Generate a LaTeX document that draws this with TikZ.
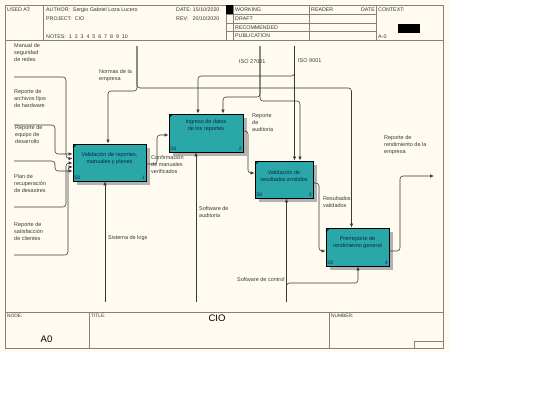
\documentclass[tikz,border=0pt]{standalone}
\usepackage{fontspec}
\setmainfont{Liberation Sans}
\usetikzlibrary{arrows.meta,shadows}
\definecolor{paper}{HTML}{FFFBF0}
\definecolor{frameline}{HTML}{86817A}
\definecolor{actfill}{HTML}{2AA8A8}
\definecolor{acttext}{HTML}{13244C}
\definecolor{ink}{HTML}{3A3A3A}

\tikzset{
  act/.style={draw=black, line width=0.9pt, fill=actfill, inner sep=0pt,
    drop shadow={shadow xshift=4pt, shadow yshift=-4pt, fill=black!30, opacity=1}},
  acttxt/.style={font=\fontsize{5.5}{7}\selectfont, text=acttext, align=center, inner sep=0pt},
  corner/.style={font=\fontsize{5}{6}\selectfont, text=acttext, inner sep=1.5pt},
  lbl/.style={font=\fontsize{5.5}{7}\selectfont, text=ink, align=left, inner sep=0pt, anchor=base west},
  flow/.style={draw=ink, line width=0.55pt, rounded corners=3pt, -{Latex[length=4pt,width=3.4pt]}},
  frame/.style={draw=frameline, line width=0.8pt},
  hdr/.style={font=\fontsize{5.3}{6}\selectfont, text=black!80, inner sep=0pt, anchor=west},
  tiny/.style={font=\fontsize{4.8}{6}\selectfont, text=black!80, inner sep=0pt, anchor=west},
}

\begin{document}
\begin{tikzpicture}[x=1pt, y=-1pt]
  \useasboundingbox (0,0) rectangle (540,405);
  \fill[white] (0,0) rectangle (540,405);
  \fill[paper] (0,0) rectangle (450,352);

  % frame and header
  \draw[frame] (5,5) rectangle (443,348.5);
  \draw[frame] (5,40) -- (443,40);
  \foreach \x in {43,226,233,309,376}
    \draw[frame] (\x,5) -- (\x,40);
  \foreach \y in {14,23,31}
    \draw[frame] (226,\y) -- (376,\y);
  \fill[black] (226,5) rectangle (233,14);
  \fill[black] (398,24) rectangle (420,33);

  \node[hdr] (usedat) at (7,10) {USED AT:};
  \node[hdr] (author) at (46,10) {AUTHOR:\ \ Sergio Gabriel Loza Lucero};
  \node[hdr] (project) at (46,19) {PROJECT:\ \ CIO};
  \node[hdr] (notes) at (46,37) {NOTES:\ \ 1\ \ 2\ \ 3\ \ 4\ \ 5\ \ 6\ \ 7\ \ 8\ \ 9\ \ 10};
  \node[hdr] (date) at (176,10) {DATE:\ 15/10/2020};
  \node[hdr] (rev) at (176,19) {REV:\hspace{4.3pt}20/10/2020};
  \node[hdr] (working) at (235,10) {WORKING};
  \node[hdr] (draft) at (235,19) {DRAFT};
  \node[hdr] (recom) at (235,27.5) {RECOMMENDED};
  \node[hdr] (public) at (235,36) {PUBLICATION};
  \node[hdr] (reader) at (311,10) {READER};
  \node[hdr, anchor=east] (rdate) at (375,10) {DATE};
  \node[hdr] (context) at (378,10) {CONTEXT:};
  \node[hdr] (ctxnum) at (378,37) {A-0};

  % title block
  \draw[frame] (5,312.5) -- (443,312.5);
  \draw[frame] (89,312.5) -- (89,348.5);
  \draw[frame] (329,312.5) -- (329,348.5);
  \draw[frame] (414,341.5) rectangle (443,348.5);
  \node[tiny] (nodelbl) at (7,316) {NODE:};
  \node[tiny] (titlelbl) at (91,316) {TITLE:};
  \node[tiny] (numlbl) at (331,316) {NUMBER:};
  \node[font=\fontsize{9.5}{11}\selectfont, inner sep=0pt] (nodeid) at (46.5,339.5) {A0};
  \node[font=\fontsize{9.5}{11}\selectfont, inner sep=0pt] (title) at (217,318.5) {CIO};

  % activities
  \node[act, minimum width=73pt, minimum height=37pt] (b1) at (109.5,162.5) {};
  \node[act, minimum width=74pt, minimum height=38pt] (b2) at (206,133) {};
  \node[act, minimum width=58pt, minimum height=37pt] (b3) at (284,179.5) {};
  \node[act, minimum width=63pt, minimum height=38pt] (b4) at (357.5,247) {};

  \node[acttxt] (t1) at ([yshift=4pt]b1.center) {Validación de reportes,\\manuales y planes};
  \node[acttxt] (t2) at ([yshift=7.5pt]b2.center) {Ingreso de datos\\de los reportes};
  \node[acttxt] (t3) at ([yshift=4pt]b3.center) {Validación de\\resultados emitidos};
  \node[acttxt] (t4) at ([yshift=4.5pt]b4.center) {Prerreporte de\\rendimiento general};

  \foreach \b/\n in {b1/1,b2/2,b3/3,b4/4}{
    \node[corner, anchor=south west] (s\n) at (\b.south west) {S0};
    \node[corner, anchor=south east] (n\n) at (\b.south east) {\n};
    \draw[black, line width=0.7pt] ([shift={(0.5pt,-4pt)}]\b.north west) -- ([shift={(4pt,-0.5pt)}]\b.north west);
  }

  % inputs
  \coordinate (manual) at (14,77);
  \coordinate (archivos) at (14,125);
  \coordinate (equipo) at (14,161);
  \coordinate (plan) at (14,207);
  \coordinate (satisf) at (14,255);
  \draw[flow] (manual) -- (66,77) -- (66,158.5) -- (b1.west |- 0,158.5);
  \draw[flow] (archivos) -- (55,125) -- (55,154) -- (b1.west |- 0,154);
  \draw[flow] (equipo) -- (55,161) -- (55,171) -- (b1.west |- 0,171);
  \draw[flow] (plan) -- (66,207) -- (66,163) -- (b1.west |- 0,163);
  \draw[flow] (satisf) -- (68,255) -- (68,167) -- (b1.west |- 0,167);
  \node[lbl] (lmanual) at (14,61) {Manual de\\seguridad\\de redes};
  \node[lbl] (larchivos) at (14,107) {Reporte de\\archivos fijos\\de hardware};
  \node[lbl] (lequipo) at (15,143) {Reporte de\\equipo de\\desarrollo};
  \node[lbl] (lplan) at (14,192) {Plan de\\recuperación\\de desastres};
  \node[lbl] (lsatisf) at (14,240) {Reporte de\\satisfacción\\de clientes};

  % controls
  \coordinate (normas) at (137,46);
  \coordinate (iso27) at (260,46);
  \coordinate (iso9) at (294.5,46);
  \draw[flow] (normas) -- (137,88) -- (351.5,88) -- (b4.north -| 351.5,0);
  \draw[flow] (normas) -- (137,91) -- (108,91) -- (b1.north -| 108,0);
  \draw[flow] (iso27) -- (260,97) -- (223,97) -- (b2.north -| 223,0);
  \draw[flow] (iso27) -- (260,101) -- (300,101) -- (b3.north -| 300,0);
  \draw[flow] (iso9) -- (294.5,76) -- (198,76) -- (b2.north -| 198,0);
  \draw[flow] (iso9) -- (b3.north -| iso9);
  \node[lbl] (lnormas) at (99,80) {Normas de la\\empresa};
  \node[lbl] (liso27) at (239,63) {ISO 27001};
  \node[lbl] (liso9) at (298,62) {ISO 9001};

  % outputs
  \coordinate (rend) at (434,176);
  \draw[flow] (b1.east |- 0,164) -- (157,164) -- (157,135) -- (b2.west |- 0,135);
  \draw[flow] (b2.east |- 0,131) -- (248,131) -- (248,173) -- (b3.west |- 0,173);
  \draw[flow] (b3.east |- 0,183) -- (319,183) -- (319,251) -- (b4.west |- 0,251);
  \draw[flow] (b4.east |- 0,251) -- (400,251) -- (400,176) -- (rend);
  \node[lbl] (lconf) at (151,173) {Confirmación\\de manuales\\verificados};
  \node[lbl] (laudit) at (252,131.5) {Reporte\\de\\auditoria};
  \node[lbl] (lresult) at (323,207.5) {Resultados\\validados};
  \node[lbl] (lrend) at (384,153) {Reporte de\\rendimiento de la\\empresa};

  % mechanisms
  \coordinate (logs) at (105,302);
  \coordinate (swaudit) at (196,302);
  \coordinate (swctrl) at (286.5,302);
  \draw[flow] (logs) -- (b1.south -| logs);
  \draw[flow] (swaudit) -- (b2.south -| swaudit);
  \draw[flow] (swctrl) -- (b3.south -| swctrl);
  \draw[flow] (swctrl) -- (286.5,283) -- (358,283) -- (b4.south -| 358,0);
  \node[lbl] (llogs) at (108,239) {Sistema de logs};
  \node[lbl] (lswaudit) at (199,217) {Software de\\auditoria};
  \node[lbl] (lswctrl) at (237,281.5) {Software de control};
\end{tikzpicture}
\end{document}
